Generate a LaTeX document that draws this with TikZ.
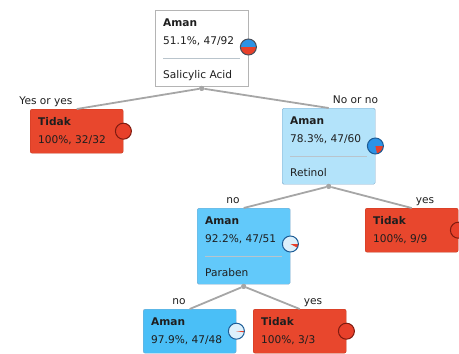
\documentclass[tikz,border=0pt]{standalone}
\usepackage{fontspec}
\setmainfont{DejaVu Sans}
\usetikzlibrary{positioning}

\definecolor{ink}{HTML}{1E1E1E}
\definecolor{tidak}{HTML}{E8472D}
\definecolor{tidakline}{HTML}{C4381F}
\definecolor{amanA}{HTML}{B3E3FA}
\definecolor{amanB}{HTML}{62C9FA}
\definecolor{amanC}{HTML}{4ABFF7}
\definecolor{amanline}{HTML}{7FAACB}
\definecolor{rootline}{HTML}{B4B4B4}
\definecolor{sepgray}{HTML}{B9C4CC}
\definecolor{linkgray}{HTML}{A6A6A6}
\definecolor{pieblue}{HTML}{2C93E6}
\definecolor{piepale}{HTML}{DDF0FB}
\definecolor{piered}{HTML}{E8402A}
\definecolor{rimblue}{HTML}{1C5C96}
\definecolor{rimred}{HTML}{7E1B10}
\definecolor{rimgray}{HTML}{4A4E5A}

\newcommand{\treefont}{\fontsize{10.6}{12}\selectfont}
% #1 centre, #2 base fill, #3 red share in degrees, #4 rim colour
\newcommand{\piechart}[4]{%
  \fill[#2] (#1) circle (8);
  \fill[piered] (#1) -- ++(0:8) arc (0:-#3:8) -- cycle;
  \draw[#4, line width=1pt] (#1) circle (8);
}

\begin{document}
\begin{tikzpicture}[x=1pt,y=1pt,
    box/.style={%
      draw,
      rectangle,
      anchor=north west,
      minimum width=93pt,
      inner sep=0pt,
    },
    split/.style={box, minimum height=76pt, rounded corners=1.5pt, draw=amanline},
    leaf/.style={box, minimum height=44pt, rounded corners=2pt, fill=tidak, draw=tidakline},
    txt/.style={anchor=base west, inner sep=0pt, text=ink, font=\treefont},
    cls/.style={txt, font=\treefont\bfseries},
    sep/.style={draw=sepgray, line width=0.8pt},
    joint/.style={circle, fill=linkgray, inner sep=0pt, minimum size=5pt},
    link/.style={draw=linkgray, line width=1.8pt},
    cond/.style={inner sep=0pt, text=ink, font=\treefont},
  ]
    \useasboundingbox (0,0) rectangle (459,-354);

    % boxes
    \node [split, fill=white, draw=rootline, rounded corners=0pt] (root) at (155,-10) {};
    \node [leaf] (yes1) at (30,-109) {};
    \node [split, fill=amanA] (no1) at (282,-108) {};
    \node [split, fill=amanB] (no2) at (197,-208) {};
    \node [leaf] (yes2) at (365,-208) {};
    \node [leaf, fill=amanC, draw=amanline] (no3) at (143,-309) {};
    \node [leaf] (yes3) at (253,-309) {};

    % texts in the boxes
    \path (root.north west) ++(8,-16) node [cls] (root-c) {Aman};
    \path (root.north west) ++(8,-34) node [txt] (root-v) {51.1\%, 47/92};
    \path (root.north west) ++(8,-68) node [txt] (root-a) {Salicylic Acid};
    \path (yes1.north west) ++(8,-16) node [cls] (yes1-c) {Tidak};
    \path (yes1.north west) ++(8,-34) node [txt] (yes1-v) {100\%, 32/32};
    \path (no1.north west) ++(8,-16) node [cls] (no1-c) {Aman};
    \path (no1.north west) ++(8,-34) node [txt] (no1-v) {78.3\%, 47/60};
    \path (no1.north west) ++(8,-68) node [txt] (no1-a) {Retinol};
    \path (no2.north west) ++(8,-16) node [cls] (no2-c) {Aman};
    \path (no2.north west) ++(8,-34) node [txt] (no2-v) {92.2\%, 47/51};
    \path (no2.north west) ++(8,-68) node [txt] (no2-a) {Paraben};
    \path (yes2.north west) ++(8,-16) node [cls] (yes2-c) {Tidak};
    \path (yes2.north west) ++(8,-34) node [txt] (yes2-v) {100\%, 9/9};
    \path (no3.north west) ++(8,-16) node [cls] (no3-c) {Aman};
    \path (no3.north west) ++(8,-34) node [txt] (no3-v) {97.9\%, 47/48};
    \path (yes3.north west) ++(8,-16) node [cls] (yes3-c) {Tidak};
    \path (yes3.north west) ++(8,-34) node [txt] (yes3-v) {100\%, 3/3};

    \draw [sep] ([shift={(8,-48)}]root.north west) -- ([shift={(-8,-48)}]root.north east);
    \draw [sep] ([shift={(8,-48)}]no1.north west) -- ([shift={(-8,-48)}]no1.north east);
    \draw [sep] ([shift={(8,-48)}]no2.north west) -- ([shift={(-8,-48)}]no2.north east);

    % branches
    \node [joint] (root-j) at ([yshift=-2pt]root.south) {};
    \node [joint] (no1-j) at ([yshift=-2pt]no1.south) {};
    \node [joint] (no2-j) at ([yshift=-2pt]no2.south) {};

    \draw [link] (root-j) -- (yes1.north);
    \draw [link] (root-j) -- (no1.north);
    \draw [link] (no1-j) -- (no2.north);
    \draw [link] (no1-j) -- (yes2.north);
    \draw [link] (no2-j) -- (no3.north);
    \draw [link] (no2-j) -- (yes3.north);
    \node [joint] at (root-j) {};
    \node [joint] at (no1-j) {};
    \node [joint] at (no2-j) {};

    \node [cond, anchor=base east] (yes1-l) at ([shift={(-4,5)}]yes1.north) {Yes or yes};
    \node [cond, anchor=base west] (no1-l) at ([shift={(4,5)}]no1.north) {No or no};
    \node [cond, anchor=base east] (no2-l) at ([shift={(-4,5)}]no2.north) {no};
    \node [cond, anchor=base west] (yes2-l) at ([shift={(4,5)}]yes2.north) {yes};
    \node [cond, anchor=base east] (no3-l) at ([shift={(-4,5)}]no3.north) {no};
    \node [cond, anchor=base west] (yes3-l) at ([shift={(4,5)}]yes3.north) {yes};

    % pies
    \path (root.north east) ++(0,-37) coordinate (root-p);
    \path (no1.north east) ++(0,-38) coordinate (no1-p);
    \path (no2.north east) ++(0,-36) coordinate (no2-p);
    \piechart{root-p}{pieblue}{178}{rimgray}
    \piechart{yes1.east}{piered}{360}{rimred}
    \piechart{no1-p}{pieblue}{78}{rimblue}
    \piechart{no2-p}{piepale}{28}{rimblue}
    \piechart{yes2.east}{piered}{360}{rimred}
    \piechart{no3.east}{piepale}{8}{rimblue}
    \piechart{yes3.east}{piered}{360}{rimred}
\end{tikzpicture}
\end{document}
